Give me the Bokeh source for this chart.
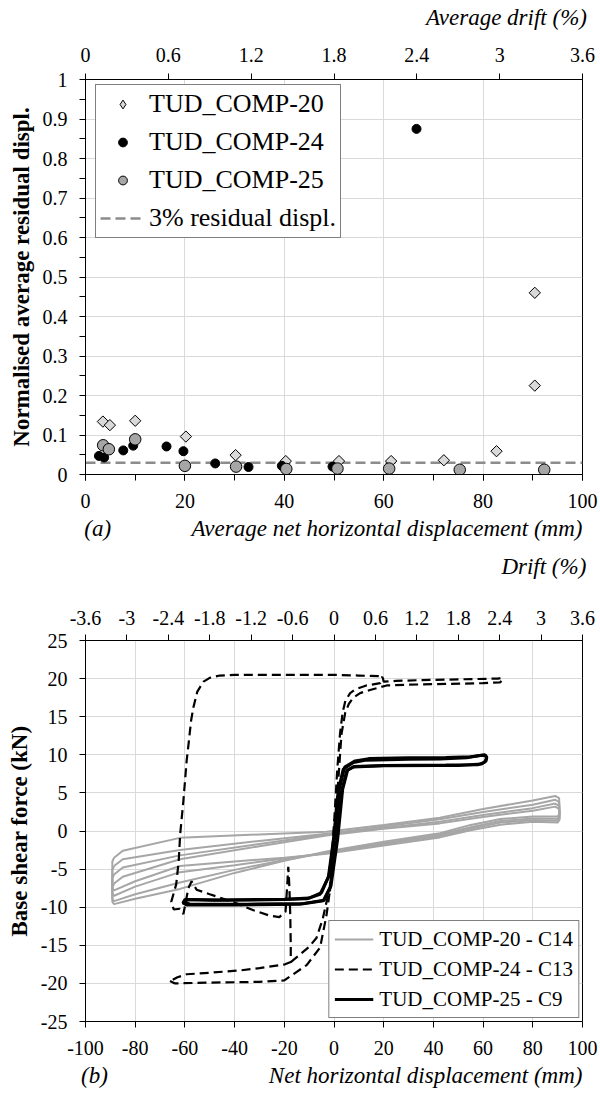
import math
from bokeh.plotting import figure
from bokeh.models import (Range1d, LinearAxis, FixedTicker, Legend, LegendItem, Title,
                          CustomJSTickFormatter)
from bokeh.layouts import column
from bokeh.embed import file_html
from bokeh.resources import INLINE

FONT = "Liberation Serif"
NB = "\u00a0"

# ---------------- (a) residual displacement data ----------------
c20_x = [3.5, 4.9, 10.0, 20.2, 30.2, 40.3, 51.0, 61.5, 72.1, 82.7, 90.4, 90.4]
c20_y = [0.134, 0.125, 0.136, 0.096, 0.049, 0.034, 0.034, 0.034, 0.036, 0.059, 0.225, 0.46]
c24_x = [2.7, 3.75, 7.6, 9.6, 16.3, 19.7, 26.1, 32.8, 39.5, 49.7, 66.6]
c24_y = [0.047, 0.043, 0.061, 0.073, 0.071, 0.059, 0.028, 0.019, 0.022, 0.020, 0.875]
c25_x = [3.55, 4.7, 10.0, 20.0, 30.3, 40.4, 50.7, 61.1, 75.3, 92.3]
c25_y = [0.074, 0.064, 0.089, 0.022, 0.020, 0.014, 0.015, 0.015, 0.012, 0.012]
residual_limit = 0.03
residual_x = [0, 100]
residual_y = [residual_limit, residual_limit]

a_x_ticks = [0, 20, 40, 60, 80, 100]
a_x_minor = [0, 10, 20, 30, 40, 50, 60, 70, 80, 90, 100]
a_drift_ticks = [0, 0.6, 1.2, 1.8, 2.4, 3, 3.6]
a_y_ticks = [0, 0.1, 0.2, 0.3, 0.4, 0.5, 0.6, 0.7, 0.8, 0.9, 1]
a_y_minor = [0.05, 0.15, 0.25, 0.35, 0.45, 0.55, 0.65, 0.75, 0.85, 0.95]

# ---------------- (b) hysteresis data ----------------
# TUD_COMP-20 - C14 (grey), four cycles
c20_loop_x = [-88.5, -85, -62, -30, -3, 20, 42.6, 60, 80, 89, 90.6, 90.8, 90, 80, 67, 55, 42.6, 20, -3, -20, -40, -62, -80, -88.5, -89.2, -89.2, -88.5]
c20_loop1_y = [-3.5, -2.6, -0.9, -0.45, -0.1, 0.8, 1.75, 2.9, 4.0, 4.6, 4.3, 2.3, 1.9, 1.9, 1.58, 0.8, -0.3, -1.4, -2.7, -3.9, -5.5, -7.6, -8.9, -9.6, -9.3, -4.0, -3.5]
c20_loop2_y = [-4.6, -3.7, -2.5, -1.3, -0.35, 0.6, 1.55, 2.5, 3.45, 4.1, 3.8, 2.0, 1.6, 1.65, 1.3, 0.5, -0.45, -1.6, -2.85, -3.8, -5.1, -6.75, -8.3, -9.2, -8.9, -5.1, -4.6]
c20_loop3_y = [-5.7, -4.8, -3.2, -1.7, -0.45, 0.4, 1.2, 2.1, 3.0, 3.6, 3.3, 1.75, 1.35, 1.4, 1.1, 0.3, -0.65, -1.75, -2.9, -3.6, -4.5, -5.4, -7.3, -8.5, -8.2, -6.2, -5.7]
c20_loop4_y = [-6.9, -6.0, -3.7, -2.0, -0.6, 0.3, 1.0, 1.85, 2.67, 3.2, 2.9, 1.5, 1.1, 1.2, 0.83, 0.1, -0.84, -1.9, -3.0, -3.5, -4.0, -4.6, -6.6, -7.8, -7.5, -7.4, -6.9]

# TUD_COMP-24 - C13 (dashed)
c24_main_x = [-66, -64, -50, -30, -20, -16.4, -11, -5.6, -3, -1.3, -0.3, 0.7, 1.8, 3, 4.5, 6, 7.8, 10.5, 14.5, 21.2,
              30, 45, 60, 66.8, 67.8, 67.5, 66, 50, 35, 25, 20, 19.5, 10, 0, -20, -40, -46, -50, -52.5, -55,
              -56.6, -57.5, -58.5, -59.3, -60.6, -61.9, -62.5, -63.5, -65.5, -64.5, -62, -60.6, -59.6, -58.6, -57.3,
              -55.3, -50, -40, -32.4, -26, -22, -19.5, -18.8, -18.4, -18, -17.6, -17.4, -17.4, -19.7, -30,
              -37.8, -50, -59.3, -63, -66]
c24_main_y = [-19.7, -20.0, -19.9, -19.8, -19.6, -18.8, -17.6, -15.3, -11, -7, -3, 2, 7, 12.7, 15.5, 16.7, 17.5, 18.1, 18.5, 19.1,
              19.2, 19.3, 19.4, 19.5, 19.8, 20.1, 20.0, 19.9, 19.8, 19.7, 19.6, 20.3, 20.4, 20.5, 20.5, 20.5, 20.4, 20.1, 19.6, 18.3,
              16.2, 14.5, 11.5, 9.2, 4.0, -0.4, -4, -7, -9.3, -10.3, -10.2, -10.9, -9.2, -7.5, -6.6,
              -7.7, -8.3, -9.4, -10.4, -11.1, -11.3, -10.6, -7, -4.7, -7, -11, -15, -17.2, -17.5, -18.0,
              -18.3, -18.6, -18.8, -19.2, -19.7]
c24_first_x = [-17.4, -14, -10, -7, -4.5, -2.8, -1.6, -0.8, 0.2, 1.3, 2.4, 3.5, 4.6, 6.5, 8.6, 13, 18.6, 19.5]
c24_first_y = [-17.2, -16.3, -15.2, -14, -11.5, -9, -7.8, -3, 2, 8, 12.7, 15.6, 17.1, 18.1, 18.6, 19.1, 19.4, 20.3]

# TUD_COMP-25 - C9 (solid black)
c25_loop1_x = [-0.3, 1.7, 3.7, 7.8, 13, 30, 42.6, 53.4, 58.7, 60.8, 61.5, 61.2, 59.4, 50, 42.6, 20, 7.8, 5.1, 3.1, 1.1,
               -1.6, -4.3, -13.7, -40, -59.3, -60.8, -60, -48.5, -20, -11, -5.6, -2.3, -0.3]
c25_loop1_y = [-1.3, 5.3, 8.1, 9.0, 9.3, 9.4, 9.45, 9.6, 9.9, 10.0, 9.7, 9.2, 8.8, 8.6, 8.6, 8.55, 8.4, 7.9, 5.3, -1.3,
               -7.4, -9.15, -9.6, -9.7, -9.7, -9.45, -9.0, -9.1, -9.0, -8.9, -8.3, -6.1, -1.3]
c25_loop2_x = [0.3, 2.2, 4.3, 8.5, 14, 30, 45, 55, 59.5, 61, 61.3, 60.5, 58, 45, 20, 8, 5.5, 3.5, 1.5, -1.2,
               -4, -12, -35, -58, -60.3, -59.5, -45, -20, -10, -5, -2, 0.3]
c25_loop2_y = [-0.8, 5.6, 8.4, 9.2, 9.5, 9.6, 9.65, 9.75, 9.95, 9.9, 9.5, 9.0, 8.7, 8.65, 8.6, 8.45, 8.0, 5.5, -1.0, -7.2,
               -9.1, -9.5, -9.6, -9.6, -9.3, -9.0, -9.05, -8.95, -8.8, -8.1, -5.8, -0.8]

b_x_ticks = [-100, -80, -60, -40, -20, 0, 20, 40, 60, 80, 100]
b_drift_ticks = [-3.6, -3, -2.4, -1.8, -1.2, -0.6, 0, 0.6, 1.2, 1.8, 2.4, 3, 3.6]
b_y_ticks = [-25, -20, -15, -10, -5, 0, 5, 10, 15, 20, 25]

fmt_code = "return String(Math.round(tick*100)/100);"


def style_axis(ax, standoff):
    ax.formatter = CustomJSTickFormatter(code=fmt_code)
    ax.major_label_text_font = FONT
    ax.major_label_text_font_size = "20px"
    ax.major_label_text_color = "black"
    ax.major_label_standoff = standoff
    ax.axis_line_color = "black"
    ax.axis_line_width = 1
    ax.major_tick_line_color = "black"
    ax.minor_tick_line_color = "black"
    ax.major_tick_out = 6
    ax.major_tick_in = 0
    ax.minor_tick_out = 6
    ax.minor_tick_in = 0
    ax.axis_label_text_font = FONT
    ax.axis_label_text_font_style = "bold"
    ax.axis_label_text_font_size = "23px"
    ax.axis_label_text_color = "black"
    ax.axis_label_standoff = 6


def make_title(text, standoff):
    return Title(text=text, align="right", standoff=standoff, text_font=FONT,
                 text_font_size="23px", text_font_style="italic", text_color="black")


def top_caption(ax, text, pad, label_standoff):
    # centred axis label, padded on the left so that it ends near the right edge
    ax.axis_label = NB * pad + text
    ax.axis_label_text_font_style = "italic"
    ax.axis_label_standoff = label_standoff


# ================= figure (a) =================
p1 = figure(width=600, height=545, x_range=Range1d(0, 100), y_range=Range1d(0, 1),
            output_backend="svg", toolbar_location=None,
            min_border_left=85, min_border_right=18, min_border_top=79, min_border_bottom=71)
p1.title.visible = False
bx1 = p1.below[0]
ly1 = p1.left[0]
p1.extra_x_ranges = {"drift": Range1d(0, 3.6)}
top1 = LinearAxis(x_range_name="drift", ticker=FixedTicker(ticks=a_drift_ticks))
p1.add_layout(top1, "above")
bx1.ticker = FixedTicker(ticks=a_x_ticks, minor_ticks=a_x_minor)
ly1.ticker = FixedTicker(ticks=a_y_ticks, minor_ticks=a_y_minor)
ly1.axis_label = "Normalised average residual displ."
style_axis(bx1, 13)
style_axis(top1, 12)
style_axis(ly1, 12)
p1.xgrid.ticker = FixedTicker(ticks=a_x_ticks)
p1.ygrid.ticker = FixedTicker(ticks=a_y_ticks)
p1.grid.grid_line_color = "#d9d9d9"
p1.grid.grid_line_width = 1
p1.outline_line_color = "black"
p1.outline_line_alpha = 1

rdash = p1.line(residual_x, residual_y, line_color="#8c8c8c", line_width=2.5, line_dash="10 5")
r20_key = p1.scatter(c20_x, c20_y, marker="diamond", size=9, fill_color="#d9d9d9",
                     line_color="black", line_width=1)
r20 = p1.scatter(c20_x, c20_y, marker="square", angle=math.pi / 4, size=8,
                 fill_color="#d9d9d9", line_color="black", line_width=1)
r24 = p1.scatter(c24_x, c24_y, marker="circle", size=9, fill_color="black", line_color="black")
r25 = p1.scatter(c25_x, c25_y, marker="circle", size=11.5, fill_color="#a6a6a6",
                 line_color="black", line_width=1)

leg1 = Legend(items=[LegendItem(label="TUD_COMP-20", renderers=[r20_key]),
                     LegendItem(label="TUD_COMP-24", renderers=[r24]),
                     LegendItem(label="TUD_COMP-25", renderers=[r25]),
                     LegendItem(label="3% residual displ.", renderers=[rdash])],
              location=(10, 236), margin=0, padding=4, spacing=8,
              glyph_width=45, glyph_height=22, label_height=30, label_standoff=4,
              label_text_font=FONT, label_text_font_size="26px", label_text_color="black",
              border_line_color="black", border_line_width=1.2, background_fill_alpha=1)
p1.add_layout(leg1)

top_caption(top1, "Average drift (%)", 60, 15)
p1.add_layout(make_title("(a)" + NB * 14 + "Average net horizontal displacement (mm)", 6), "below")

# ================= figure (b) =================
p2 = figure(width=600, height=551, x_range=Range1d(-100, 100), y_range=Range1d(-25, 25),
            output_backend="svg", toolbar_location=None,
            min_border_left=85, min_border_right=18, min_border_top=95, min_border_bottom=75)
p2.title.visible = False
bx2 = p2.below[0]
ly2 = p2.left[0]
p2.extra_x_ranges = {"drift": Range1d(-3.6, 3.6)}
top2 = LinearAxis(x_range_name="drift", ticker=FixedTicker(ticks=b_drift_ticks))
p2.add_layout(top2, "above")
bx2.ticker = FixedTicker(ticks=b_x_ticks)
ly2.ticker = FixedTicker(ticks=b_y_ticks)
ly2.axis_label = "Base shear force (kN)"
style_axis(bx2, 13)
style_axis(top2, 10)
style_axis(ly2, 12)
p2.xgrid.ticker = FixedTicker(ticks=b_x_ticks)
p2.ygrid.ticker = FixedTicker(ticks=b_y_ticks)
p2.grid.grid_line_color = "#d9d9d9"
p2.grid.grid_line_width = 1
p2.outline_line_color = "black"
p2.outline_line_alpha = 1

g20 = p2.multi_line(xs=[c20_loop_x, c20_loop_x, c20_loop_x, c20_loop_x],
                    ys=[c20_loop1_y, c20_loop2_y, c20_loop3_y, c20_loop4_y],
                    line_color="#a6a6a6", line_width=2)
g24 = p2.multi_line(xs=[c24_main_x, c24_first_x], ys=[c24_main_y, c24_first_y],
                    line_color="black", line_width=2.2, line_dash="9 5")
g25 = p2.multi_line(xs=[c25_loop1_x, c25_loop2_x], ys=[c25_loop1_y, c25_loop2_y],
                    line_color="black", line_width=3)

leg2 = Legend(items=[LegendItem(label="TUD_COMP-20 - C14", renderers=[g20]),
                     LegendItem(label="TUD_COMP-24 - C13", renderers=[g24]),
                     LegendItem(label="TUD_COMP-25 - C9", renderers=[g25])],
              location="bottom_right", margin=3, padding=5, spacing=4,
              glyph_width=39, glyph_height=26, label_height=26, label_standoff=6,
              label_text_font=FONT, label_text_font_size="21px", label_text_color="black",
              border_line_color="black", border_line_width=1.2, background_fill_alpha=1)
p2.add_layout(leg2)

top_caption(top2, "Drift (%)", 73, 29)
p2.add_layout(make_title("(b)" + NB * 28 + "Net horizontal displacement (mm)", 6), "below")

layout = column(p1, p2, spacing=0)
open("out.html", "w").write(file_html(layout, INLINE))
